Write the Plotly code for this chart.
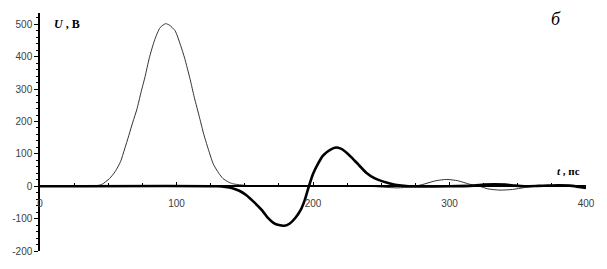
import plotly.graph_objects as go

# Thin curve (input pulse), t in ps, U in V
t_thin = [0, 30, 38, 45, 51, 55, 59, 62, 65, 68, 71, 74, 77, 80, 84, 88, 92, 95, 99,
          103, 106, 110, 113, 117, 120, 124, 127, 131, 134, 138, 141, 145, 150, 155, 160,
          240, 252, 262, 272, 280, 290, 298, 306, 315, 322, 328, 337, 346, 355, 362,
          372, 380, 390, 400]
u_thin = [0, 0, 0, 5, 24, 45, 76, 115, 156, 198, 238, 290, 339, 395, 452, 490, 502, 497, 480,
          435, 395, 330, 275, 210, 160, 105, 68, 40, 24, 13, 8, 5, 3, 1, 0,
          0, -3, -5, -2, 5, 17, 21, 17, 6, 0, -8, -12, -10, -4, 0,
          2, 4, 1, 0]

# Thick curve (output signal)
t_thick = [0, 130, 136, 141, 146, 151, 157, 163, 167, 171, 175, 179, 183, 187, 191, 194, 197,
           200, 204, 207, 211, 216, 220, 224, 228, 233, 239, 245, 251, 257, 263, 270, 300,
           318, 325, 333, 341, 348, 355, 365, 372, 380, 388, 395, 400]
u_thick = [0, 0, -2, -6, -14, -27, -50, -76, -98, -113, -120, -122, -115, -98, -73, -42, 0,
           38, 72, 93, 108, 119, 117, 106, 90, 68, 42, 25, 15, 8, 3, 0, 0,
           2, 5, 6, 5, 2, 0, 1, 2, 3, 2, -2, -5]

x_ticks = [0, 100, 200, 300, 400]
y_ticks = [-200, -100, 0, 100, 200, 300, 400, 500]

fig = go.Figure()
fig.add_trace(go.Scatter(x=t_thin, y=u_thin, mode="lines",
                         line=dict(color="#333333", width=1, shape="spline", smoothing=0.6)))
fig.add_trace(go.Scatter(x=t_thick, y=u_thick, mode="lines",
                         line=dict(color="black", width=2.6, shape="spline", smoothing=0.6)))

yr = [-200, 535]
fig.update_layout(
    width=607, height=269,
    margin=dict(l=32, r=15, t=13, b=16),
    paper_bgcolor="white", plot_bgcolor="white",
    showlegend=False,
    font=dict(family="Liberation Sans", size=10, color="#404040"),
    xaxis=dict(range=[0, 400], tickvals=x_ticks, ticktext=[str(v) for v in x_ticks],
               anchor="free", position=(0 - yr[0]) / (yr[1] - yr[0]),
               showline=True, linecolor="black", linewidth=2,
               ticks="inside", ticklen=3, tickcolor="black", tickwidth=1,
               minor=dict(dtick=25, tick0=0, ticks="inside", ticklen=2, tickcolor="black"),
               showgrid=False, zeroline=False, ticklabelstandoff=8),
    yaxis=dict(range=yr, tickvals=y_ticks, ticktext=[str(v) for v in y_ticks],
               showline=True, linecolor="black", linewidth=1.5,
               ticks="outside", ticklen=4, tickcolor="black", tickwidth=1,
               minor=dict(dtick=20, tick0=0, ticks="outside", ticklen=2, tickcolor="black"),
               showgrid=False, zeroline=False),
    annotations=[
        dict(x=9, y=500, xref="x", yref="y", xanchor="left", yanchor="middle",
             text="<b><i>U</i> , B</b>", showarrow=False,
             font=dict(family="Liberation Serif", size=12, color="black")),
        dict(x=378, y=517, xref="x", yref="y", xanchor="center", yanchor="middle",
             text="<i>б</i>", showarrow=False,
             font=dict(family="Liberation Serif", size=18, color="black")),
        dict(x=377, y=46, xref="x", yref="y", xanchor="left", yanchor="middle",
             text="<b><i>t</i> , пс</b>", showarrow=False,
             font=dict(family="Liberation Serif", size=11, color="black")),
    ],
)

fig.write_html("out.html")
